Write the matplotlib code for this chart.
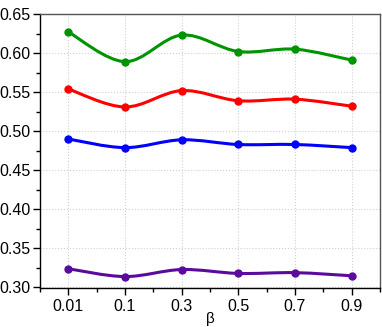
import numpy as np
import matplotlib.pyplot as plt
from matplotlib.path import Path
from matplotlib.patches import PathPatch
from matplotlib.ticker import MultipleLocator

# ======================
# DATA
# ======================
beta_labels = ["0.01", "0.1", "0.3", "0.5", "0.7", "0.9"]
green = [0.627, 0.589, 0.623, 0.602, 0.605, 0.591]
red = [0.554, 0.531, 0.552, 0.539, 0.541, 0.532]
blue = [0.490, 0.479, 0.489, 0.483, 0.483, 0.479]
purple = [0.324, 0.314, 0.323, 0.318, 0.319, 0.315]

series = [
    (green, "#009400"),
    (red, "#ff0000"),
    (blue, "#0000ff"),
    (purple, "#5b0a9e"),
]


# ======================
# SMOOTH CURVE (Catmull-Rom -> Bezier path)
# ======================
def smooth_path(x, y):
    pts = np.column_stack([x, y]).astype(float)
    n = len(pts)
    verts = [pts[0]]
    codes = [Path.MOVETO]
    for i in range(n - 1):
        p0 = pts[i - 1] if i > 0 else pts[i]
        p1 = pts[i]
        p2 = pts[i + 1]
        p3 = pts[i + 2] if i + 2 < n else pts[i + 1]
        c1 = p1 + (p2 - p0) / 6
        c2 = p2 - (p3 - p1) / 6
        verts += [c1, c2, p2]
        codes += [Path.CURVE4] * 3
    return Path(verts, codes)


# ======================
# PLOT
# ======================
plt.rcParams["font.family"] = ["Liberation Sans", "DejaVu Sans"]

fig = plt.figure(figsize=(3.82, 3.27), dpi=100)
ax = fig.add_axes([40 / 382, 1 - 287.5 / 327, 340 / 382, 273.5 / 327])

x = np.arange(1, len(beta_labels) + 1)

for vals, col in series:
    patch = PathPatch(smooth_path(x, vals), facecolor="none", edgecolor=col,
                      lw=2.2, capstyle="round", joinstyle="round", zorder=3)
    ax.add_patch(patch)
    ax.plot(x, vals, "o", color=col, markersize=5, zorder=4)

ax.set_xlim(0.5, 6.5)
ax.set_ylim(0.30, 0.65)
ax.set_xticks(x)
ax.set_xticklabels(beta_labels)
ax.xaxis.set_minor_locator(MultipleLocator(0.5))
ax.yaxis.set_major_locator(MultipleLocator(0.05))
ax.yaxis.set_minor_locator(MultipleLocator(0.025))
ax.yaxis.set_major_formatter(plt.FormatStrFormatter("%.2f"))

ax.grid(True, which="major", color="#d0d0d0", linestyle=":", linewidth=0.8)
ax.tick_params(which="major", direction="out", length=5, width=1, labelsize=11.5)
ax.tick_params(axis="y", which="major", pad=1.5)
ax.tick_params(which="minor", direction="out", length=3, width=1)

for s in ["left", "bottom"]:
    ax.spines[s].set_color("black")
    ax.spines[s].set_linewidth(1)
for s in ["top", "right"]:
    ax.spines[s].set_color("#555555")
    ax.spines[s].set_linewidth(1)

ax.set_xlabel("β", fontsize=11, labelpad=-2)

plt.savefig("out.png", dpi=100)
plt.close()
